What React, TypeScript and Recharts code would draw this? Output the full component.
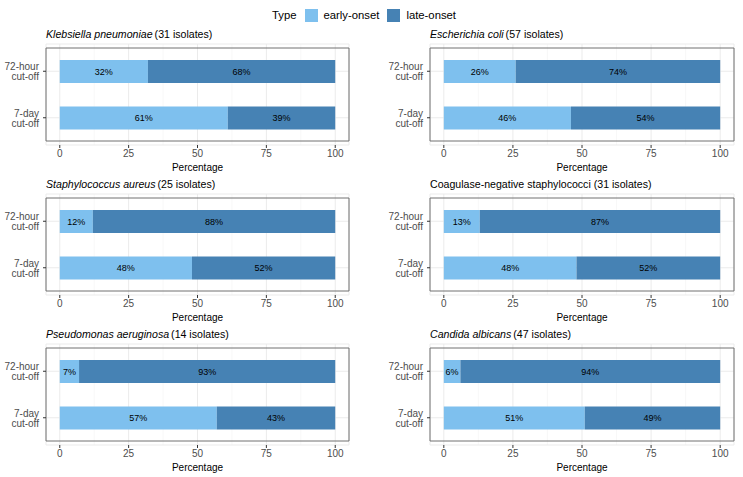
import React from "react";
import {
  BarChart, Bar, XAxis, YAxis, CartesianGrid, LabelList, ReferenceArea,
} from "recharts";

const organisms = [
  "Klebsiella pneumoniae",
  "Escherichia coli",
  "Staphylococcus aureus",
  "Coagulase-negative staphylococci",
  "Pseudomonas aeruginosa",
  "Candida albicans",
];
const isolates = [31, 57, 25, 31, 14, 47];
const italicName = [true, true, true, false, true, true];

const cutoffs = ["72-hour cut-off", "7-day cut-off"];
const early72 = [32, 26, 12, 13, 7, 6];
const late72 = [68, 74, 88, 87, 93, 94];
const early7 = [61, 46, 48, 48, 57, 51];
const late7 = [39, 54, 52, 52, 43, 49];

const xTicks = [0, 25, 50, 75, 100];
const minorTicks = [12.5, 37.5, 62.5, 87.5];
const xDomain = [-5, 105];
const types = ["early-onset", "late-onset"];

const EARLY = "#7EC0EE";
const LATE = "#4682B4";
const FONT = "'Liberation Sans', Arial, sans-serif";

const CutoffTick = (props: any) => {
  const { x, y, payload } = props;
  const [a, b] = String(payload.value).split(" ");
  return (
    <text x={x} y={y} textAnchor="end" fill="#4d4d4d" fontSize={10} fontFamily={FONT}>
      <tspan x={x} dy="-0.1em">{a}</tspan>
      <tspan x={x} dy="1em">{b}</tspan>
    </text>
  );
};

// minor grid lines, mapped through the axis scale when recharts hands it over
const minorLines = ({ xAxis, offset }: any) =>
  minorTicks.map((v) =>
    xAxis && typeof xAxis.scale === "function"
      ? xAxis.scale(v)
      : offset.left + ((v - xDomain[0]) / (xDomain[1] - xDomain[0])) * offset.width
  );

function Facet({ i, panelLeft, panelTop, plotWidth }: {
  i: number; panelLeft: number; panelTop: number; plotWidth: number;
}) {
  const data = [
    { cutoff: cutoffs[0], early: early72[i], late: late72[i] },
    { cutoff: cutoffs[1], early: early7[i], late: late7[i] },
  ];
  const yW = 46;
  return (
    <>
      <div style={{
        position: "absolute", left: panelLeft, top: panelTop - 16,
        fontSize: 10.6, lineHeight: "12px", color: "#000", whiteSpace: "nowrap",
      }}>
        <span style={{ fontStyle: italicName[i] ? "italic" : "normal", marginRight: italicName[i] ? 2 : 0 }}>
          {organisms[i]}
        </span>
        {italicName[i] ? "" : " "}({isolates[i]} isolates)
      </div>
      <div style={{ position: "absolute", left: panelLeft - yW, top: panelTop - 2 }}>
        <BarChart
          width={yW + plotWidth + 8}
          height={2 + 101 + 31}
          data={data}
          layout="vertical"
          margin={{ top: 2, right: 8, left: 0, bottom: 0 }}
          barSize={23}
        >
          <CartesianGrid stroke="#f3f3f3" strokeWidth={0.6} horizontal={false}
            verticalCoordinatesGenerator={minorLines} />
          <CartesianGrid stroke="#ebebeb" strokeWidth={1} />
          <XAxis
            type="number" domain={xDomain} ticks={xTicks} allowDataOverflow
            height={31} axisLine={false} tickSize={3} tickMargin={2}
            tickLine={{ stroke: "#333" }}
            tick={{ fill: "#4d4d4d", fontSize: 10, fontFamily: FONT }}
            label={{ value: "Percentage", position: "insideBottom", offset: 5, fill: "#000", fontSize: 10, fontFamily: FONT }}
          />
          <YAxis
            type="category" dataKey="cutoff" width={yW} axisLine={false}
            tickSize={3} tickMargin={4} tickLine={{ stroke: "#333" }}
            padding={{ top: 4, bottom: 4 }} tick={<CutoffTick />}
          />
          <Bar dataKey="early" stackId="a" fill={EARLY} isAnimationActive={false}>
            <LabelList dataKey="early" position="center" formatter={(v: any) => `${v}%`}
              fill="#000" fontSize={9} fontFamily={FONT} />
          </Bar>
          <Bar dataKey="late" stackId="a" fill={LATE} isAnimationActive={false}>
            <LabelList dataKey="late" position="center" formatter={(v: any) => `${v}%`}
              fill="#000" fontSize={9} fontFamily={FONT} />
          </Bar>
          <ReferenceArea x1={xDomain[0]} x2={xDomain[1]} fill="none" stroke="#707070" strokeWidth={1} ifOverflow="visible" />
        </BarChart>
      </div>
    </>
  );
}

export default function App() {
  const cols = [{ left: 46, w: 303 }, { left: 430, w: 304 }];
  const rows = [44, 194, 344];
  return (
    <div style={{
      position: "absolute", left: 0, top: 0, width: 743, height: 477,
      background: "#fff", fontFamily: FONT, overflow: "hidden",
    }}>
      <div style={{ position: "absolute", left: 272, top: 8, height: 14, display: "flex", alignItems: "center", fontSize: 11.3, whiteSpace: "nowrap" }}>
        <span style={{ marginRight: 8 }}>Type</span>
        <span style={{ width: 13, height: 13, background: EARLY, display: "inline-block", marginRight: 6 }} />
        <span style={{ marginRight: 8 }}>{types[0]}</span>
        <span style={{ width: 13, height: 13, background: LATE, display: "inline-block", marginRight: 6 }} />
        <span>{types[1]}</span>
      </div>
      {organisms.map((_, i) => (
        <Facet key={i} i={i} panelLeft={cols[i % 2].left} panelTop={rows[Math.floor(i / 2)]} plotWidth={cols[i % 2].w} />
      ))}
    </div>
  );
}
